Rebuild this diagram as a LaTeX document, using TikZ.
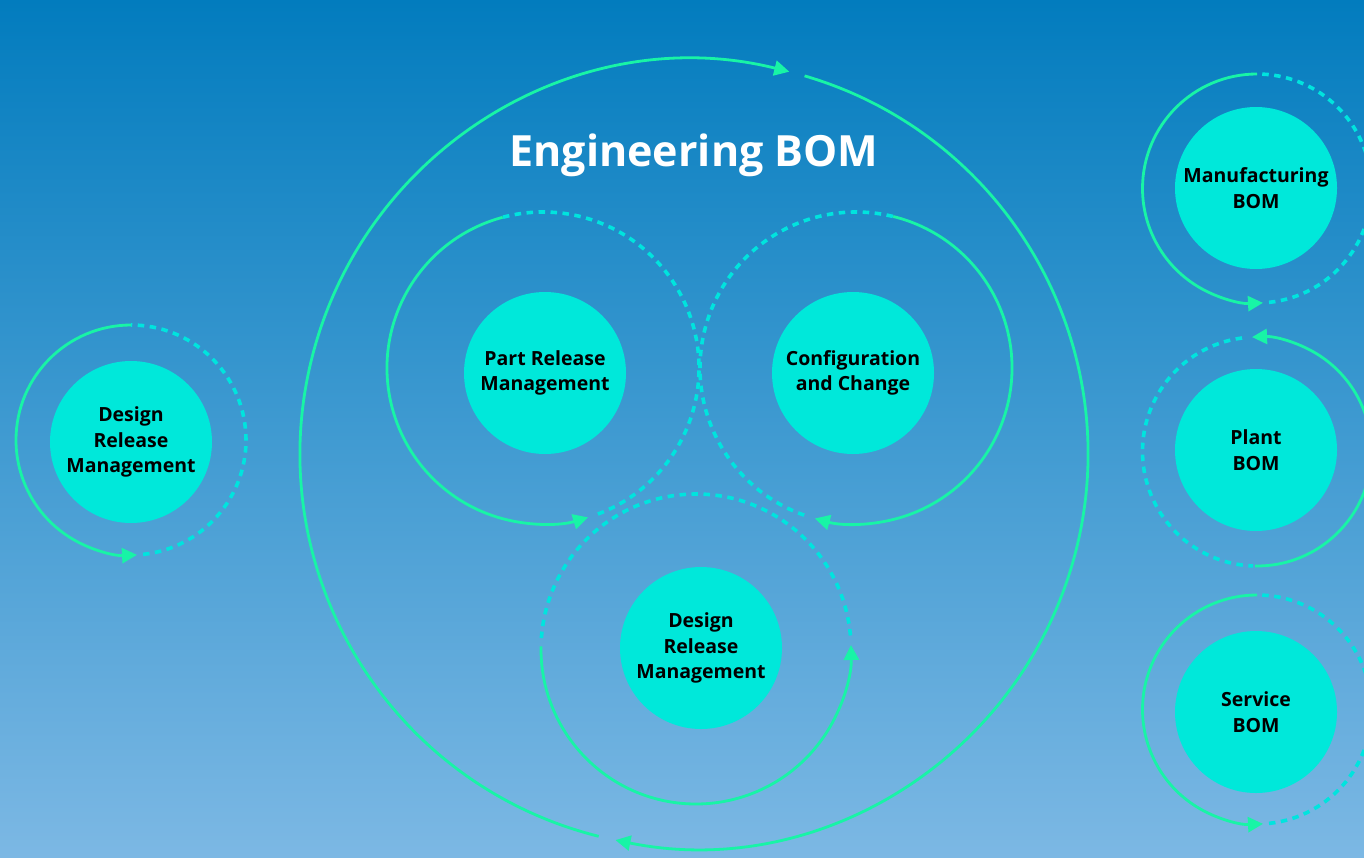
\documentclass[tikz,border=0pt]{standalone}
\usepackage{fontspec}
\setmainfont{Open Sans}
\usetikzlibrary{arrows.meta}
\definecolor{bgtop}{RGB}{2,124,190}
\definecolor{bgbot}{RGB}{124,184,228}
\definecolor{ringgreen}{RGB}{24,244,166}
\definecolor{dotcyan}{RGB}{0,228,222}
\definecolor{discfill}{RGB}{0,232,218}
\begin{document}
\begin{tikzpicture}[x=1pt,y=1pt,
  solidring/.style={draw=ringgreen,line width=2.8pt,-{Triangle[length=15pt,width=15pt]}},
  dotring/.style={draw=dotcyan,line width=3.6pt,dash pattern=on 6.5pt off 5.5pt},
  disc/.style={circle,fill=discfill,minimum size=162pt,inner sep=0pt,
    font=\fontsize{19.5}{25.7}\selectfont\bfseries,align=center,text=black},
  titletext/.style={font=\fontsize{43}{52}\selectfont\bfseries,text=white}]
\shade[top color=bgtop,bottom color=bgbot] (0,0) rectangle (1364,-857);
\useasboundingbox (0,0) rectangle (1364,-857);

% ring centres
\coordinate (bigc) at (694,-454);
\coordinate (prc) at (543,-368);
\coordinate (ccc) at (856,-368);
\coordinate (drc) at (696,-649);
\coordinate (ldc) at (131,-440);
\coordinate (mfc) at (1257,-188.5);
\coordinate (plc) at (1257,-451.5);
\coordinate (svc) at (1257,-709.5);

% big Engineering BOM ring
\draw[solidring] (bigc) ++(-104:394) arc[start angle=-104,end angle=-284,radius=394];
\draw[solidring] (bigc) ++(-286.3:394) arc[start angle=-286.3,end angle=-461.5,radius=394];

% Part Release ring
\draw[dotring] (prc) ++(-69.4:156) arc[start angle=-69.4,end angle=105,radius=156];
\draw[solidring] (prc) ++(-255:156) arc[start angle=-255,end angle=-73.2,radius=156];

% Configuration ring
\draw[dotring] (ccc) ++(-109.4:156) arc[start angle=-109.4,end angle=-283.8,radius=156];
\draw[solidring] (ccc) ++(76.2:156) arc[start angle=76.2,end angle=-105.3,radius=156];

% Design Release (centre) ring
\draw[dotring] (drc) ++(5:155) arc[start angle=5,end angle=177,radius=155];
\draw[solidring] (drc) ++(-181:155) arc[start angle=-181,end angle=1.5,radius=155];

% Left Design Release ring
\draw[dotring] (ldc) ++(-84:115) arc[start angle=-84,end angle=90,radius=115];
\draw[solidring] (ldc) ++(-270:115) arc[start angle=-270,end angle=-87,radius=115];

% Manufacturing ring
\draw[dotring] (mfc) ++(-84:114.5) arc[start angle=-84,end angle=90,radius=114.5];
\draw[solidring] (mfc) ++(-270:114.5) arc[start angle=-270,end angle=-87,radius=114.5];

% Plant ring
\draw[dotring] (plc) ++(97.5:114.5) arc[start angle=97.5,end angle=268,radius=114.5];
\draw[solidring] (plc) ++(-91:114.5) arc[start angle=-91,end angle=92.5,radius=114.5];

% Service ring
\draw[dotring] (svc) ++(-84:114.5) arc[start angle=-84,end angle=90,radius=114.5];
\draw[solidring] (svc) ++(-270:114.5) arc[start angle=-270,end angle=-87,radius=114.5];

% discs
\node[disc] (prm) at (545,-373) {Part Release\\Management};
\node[disc] (cfg) at (853,-373) {Configuration\\and Change};
\node[disc] (drm) at (701,-648) {Design\\Release\\Management};
\node[disc] (ldrm) at (131,-442) {Design\\Release\\Management};
\node[disc] (mbom) at (1256,-188) {Manufacturing\\BOM};
\node[disc] (pbom) at (1256,-450) {Plant\\BOM};
\node[disc] (sbom) at (1256,-712) {Service\\BOM};

\node[titletext] (title) at (694,-155) {Engineering BOM};
\end{tikzpicture}
\end{document}
